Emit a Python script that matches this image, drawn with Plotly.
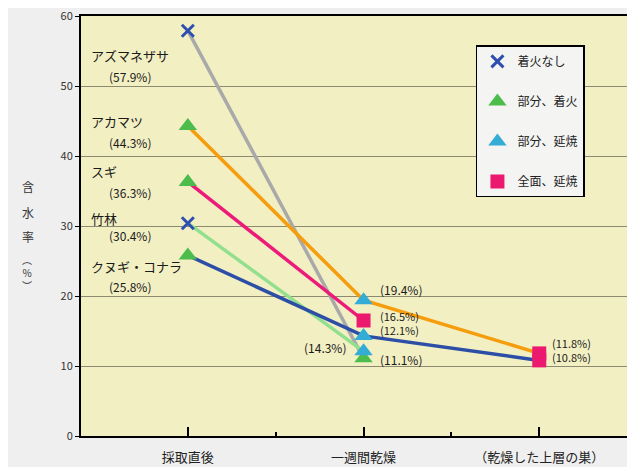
import plotly.graph_objects as go

# ---- data -------------------------------------------------------------------
CATEGORIES = ["採取直後", "一週間乾燥", "（乾燥した上層の巣）"]
SPECIES = ["アズマネザサ", "アカマツ", "スギ", "竹林", "クヌギ・コナラ"]

# water content (%) at each stage, None = not measured
AZUMANEZASA = [57.9, 11.1, None]
AKAMATSU = [44.3, 19.4, 11.8]
SUGI = [36.3, 16.5, None]
CHIKURIN = [30.4, 12.1, None]
KUNUGI = [25.8, 14.3, 10.8]

# burn result for each measured point (same order as values)
AZUMANEZASA_FIRE = ["着火なし", "部分、着火"]
AKAMATSU_FIRE = ["部分、着火", "部分、延焼", "全面、延焼"]
SUGI_FIRE = ["部分、着火", "全面、延焼"]
CHIKURIN_FIRE = ["着火なし", "部分、延焼"]
KUNUGI_FIRE = ["部分、着火", "部分、延焼", "全面、延焼"]

FIRE_CLASSES = ["着火なし", "部分、着火", "部分、延焼", "全面、延焼"]

FONT = "Noto Sans CJK JP, Noto Sans, sans-serif"

series = [
    (AZUMANEZASA, AZUMANEZASA_FIRE, "#a9a9a9"),
    (AKAMATSU, AKAMATSU_FIRE, "#f59d0c"),
    (SUGI, SUGI_FIRE, "#ec1a78"),
    (CHIKURIN, CHIKURIN_FIRE, "#92df8e"),
    (KUNUGI, KUNUGI_FIRE, "#2c4ea6"),
]

marker_style = {
    "着火なし": dict(symbol="x-thin", size=12, color="#2f4fb0",
                   line=dict(width=3, color="#2f4fb0")),
    "部分、着火": dict(symbol="triangle-up", size=16, color="#4cbc4c"),
    "部分、延焼": dict(symbol="triangle-up", size=16, color="#33acd6"),
    "全面、延焼": dict(symbol="square", size=14, color="#ec1a6e"),
}

fig = go.Figure()

# lines
for name, (vals, _, col) in zip(SPECIES, series):
    xs = [i for i, v in enumerate(vals) if v is not None]
    ys = [v for v in vals if v is not None]
    fig.add_trace(go.Scatter(x=xs, y=ys, mode="lines", name=name,
                             line=dict(color=col, width=3.5),
                             showlegend=False, hoverinfo="skip"))

# markers grouped by burn result (these make the legend)
for k, cls in enumerate(FIRE_CLASSES):
    xs, ys = [], []
    for vals, fire, _ in series:
        pts = [(i, v) for i, v in enumerate(vals) if v is not None]
        for (i, v), f in zip(pts, fire):
            if f == cls:
                xs.append(i)
                ys.append(v)
    fig.add_trace(go.Scatter(x=xs, y=ys, mode="markers", name=cls,
                             marker=marker_style[cls], legendgroup=str(k)))

LABEL_FONT = dict(size=12, color="#1a1a1a")
SMALL_FONT = dict(size=11, color="#1a1a1a")

# species labels at the left
left_labels = [
    ("アズマネザサ", 54.3, "(57.9%)", 51.4),
    ("アカマツ", 44.9, "(44.3%)", 41.9),
    ("スギ", 37.8, "(36.3%)", 34.8),
    ("竹林", 31.1, "(30.4%)", 28.6),
    ("クヌギ・コナラ", 24.2, "(25.8%)", 21.4),
]
for name, yn, val, yv in left_labels:
    fig.add_annotation(x=-0.56, y=yn, text=name, showarrow=False,
                       xanchor="left", font=dict(size=13, color="#1a1a1a"))
    fig.add_annotation(x=-0.46, y=yv, text=val, showarrow=False,
                       xanchor="left", font=LABEL_FONT)

# value labels near the later points (close pairs share one text block)
right_labels = [
    (1.08, 20.9, "(19.4%)", "left", LABEL_FONT),
    (1.08, 16.1, "(16.5%)<br>(12.1%)", "left", SMALL_FONT),
    (0.91, 12.7, "(14.3%)", "right", LABEL_FONT),
    (1.08, 10.9, "(11.1%)", "left", LABEL_FONT),
    (2.06, 12.3, "(11.8%)<br>(10.8%)", "left", SMALL_FONT),
]
for x, y, t, anc, f in right_labels:
    fig.add_annotation(x=x, y=y, text=t, showarrow=False, xanchor=anc,
                       align="left", font=f)

# vertical y-axis title
for ch, y, sz in [("含", 35.6, 12), ("水", 31.9, 12), ("率", 28.5, 12),
                  ("︵<br>%<br>︶", 23.4, 10)]:
    fig.add_annotation(xref="paper", x=-0.112, y=y, text=ch,
                       showarrow=False, font=dict(size=sz, color="#333"))

fig.update_layout(
    width=627, height=459,
    margin=dict(l=73, r=7, t=8, b=31),
    paper_bgcolor="#efefef",
    plot_bgcolor="#f2efc3",
    font=dict(family=FONT, size=12, color="#333"),
    legend=dict(x=0.722, y=0.93, xanchor="left", yanchor="top",
                bgcolor="#f4f4f2", bordercolor="black", borderwidth=1.5,
                font=dict(size=12, color="#222"), tracegroupgap=21,
                itemwidth=30),
    xaxis=dict(range=[-0.608, 2.505], tickvals=[0, 1, 2], ticktext=CATEGORIES,
               showline=True, linecolor="black", linewidth=2, mirror=True,
               ticks="inside", ticklen=9, tickwidth=2, tickcolor="black",
               showgrid=False, zeroline=False, ticklabelstandoff=8,
               automargin=False, tickfont=dict(size=13, color="#222"),
               minor=dict(tickvals=[0.5, 1.5], ticks="inside", ticklen=4,
                          tickwidth=1.5, tickcolor="black", showgrid=False)),
    yaxis=dict(range=[0, 60], dtick=10, showline=True, linecolor="black",
               linewidth=2, mirror=True, ticks="outside", ticklen=4,
               tickcolor="black", showgrid=True, gridcolor="#8c8a70",
               gridwidth=1, zeroline=False, ticklabeloverflow="allow",
               automargin=False, tickfont=dict(size=11, color="#333")),
)

fig.write_html("out.html")
